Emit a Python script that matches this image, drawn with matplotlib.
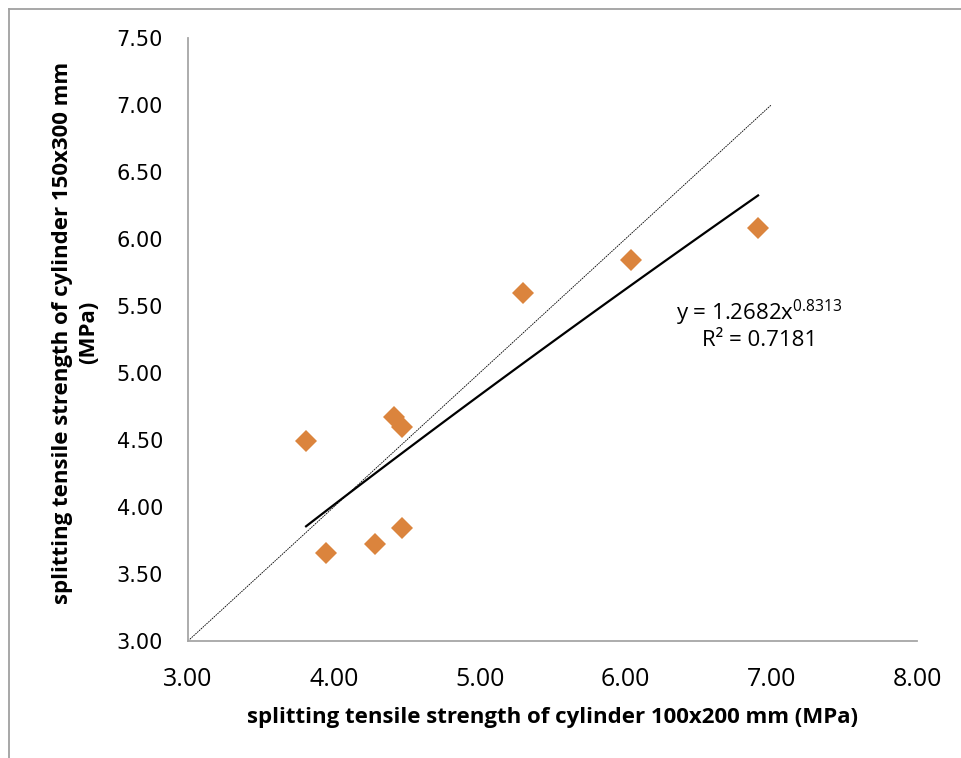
import numpy as np
import matplotlib
matplotlib.use('Agg')
import matplotlib.pyplot as plt
from matplotlib.lines import Line2D

plt.rcParams['font.family'] = ['Open Sans', 'DejaVu Sans']
plt.rcParams['mathtext.fontset'] = 'custom'
plt.rcParams['mathtext.rm'] = 'Open Sans'
plt.rcParams['mathtext.it'] = 'Open Sans'

# 劈裂抗拉强度数据 (MPa)
x100 = [3.81, 3.95, 4.28, 4.47, 4.41, 4.47, 5.30, 6.04, 6.91]
y150 = [4.49, 3.66, 3.72, 3.84, 4.67, 4.60, 5.60, 5.84, 6.08]
# 幂函数拟合 y = a*x^b
fit_a = 1.2682
fit_b = 0.8313
fit_r2 = 0.7181
# 1:1 参考线
line_ends = [3.0, 7.0]

xticks = [3.0, 4.0, 5.0, 6.0, 7.0, 8.0]
yticks = [3.0, 3.5, 4.0, 4.5, 5.0, 5.5, 6.0, 6.5, 7.0, 7.5]

fig = plt.figure(figsize=(9.62, 7.58), dpi=100)
ax = fig.add_axes([0.1954, 0.1544, 0.7578, 0.7955])

# 外框
fig.add_artist(Line2D([9 / 962, 9 / 962], [0, 1 - 9 / 758], color='#A0A0A0', lw=1.3))
fig.add_artist(Line2D([9 / 962, 1], [1 - 9 / 758, 1 - 9 / 758], color='#A0A0A0', lw=1.3))

ax.plot(line_ends, line_ends, color='black', lw=0.6, ls=(0, (2, 1)))

xs = np.linspace(min(x100), max(x100), 100)
ax.plot(xs, fit_a * xs ** fit_b, color='black', lw=1.6)

ax.plot(x100, y150, ls='none', marker='D', markersize=11, color='#DB843D',
        markeredgewidth=0)

ax.text(6.92, 5.45, 'y = %.4fx$^{%.4f}$' % (fit_a, fit_b), fontsize=16,
        ha='center', va='center')
ax.text(6.92, 5.24, 'R² = %.4f' % fit_r2, fontsize=16, ha='center', va='center')

ax.set_xlim(3, 8)
ax.set_ylim(3, 7.5)
ax.set_xticks(xticks)
ax.set_yticks(yticks)
ax.set_xticklabels(['%.2f' % v for v in xticks], fontsize=18)
ax.set_yticklabels(['%.2f' % v for v in yticks], fontsize=15, family='DejaVu Sans')
ax.tick_params(axis='both', length=0)
ax.tick_params(axis='x', pad=19)
ax.tick_params(axis='y', pad=18)

for s in ['top', 'right']:
    ax.spines[s].set_visible(False)
for s in ['left', 'bottom']:
    ax.spines[s].set_color('#A6A6A6')
    ax.spines[s].set_linewidth(1.3)

ax.set_xlabel('splitting tensile strength of cylinder 100x200 mm (MPa)',
              fontsize=16, fontweight='bold')
ax.xaxis.set_label_coords(0.5, -0.11)
ax.set_ylabel('splitting tensile strength of cylinder 150x300 mm\n(MPa)',
              fontsize=16, fontweight='bold', multialignment='center',
              linespacing=1.3)
ax.yaxis.set_label_coords(-0.122, 0.511)

fig.savefig('out.png', dpi=100)
